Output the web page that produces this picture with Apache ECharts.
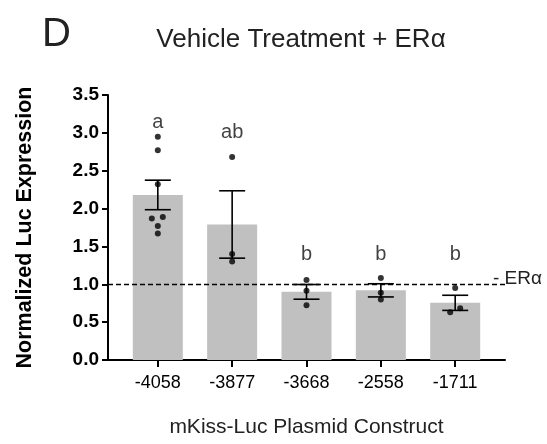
<!DOCTYPE html>
<html>
<head>
<meta charset="utf-8">
<script src="https://cdn.jsdelivr.net/npm/echarts@6/dist/echarts.min.js"></script>
<style>
  html, body { margin: 0; padding: 0; background: #fff; }
  #chart { width: 547px; height: 444px; }
</style>
</head>
<body>
<div id="chart"></div>
<script>
// Promoter deletion constructs (x categories)
const constructs = ['-4058', '-3877', '-3668', '-2558', '-1711'];
// Group means and standard errors
const means = [2.18, 1.79, 0.90, 0.92, 0.755];
const sems = [0.195, 0.445, 0.097, 0.087, 0.10];
// Individual replicates per construct
const replicates = [
  [2.95, 2.77, 2.32, 1.89, 1.87, 1.77, 1.67],
  [2.68, 1.40, 1.30],
  [1.057, 0.916, 0.722],
  [1.083, 0.889, 0.80],
  [0.951, 0.683, 0.63]
];
// Statistical grouping letters and the height they are written at
const letters = ['a', 'ab', 'b', 'b', 'b'];
const letterAt = [3.14, 3.0, 1.39, 1.39, 1.39];
// Reference level without ERα
const baseline = 1.0;
const yTicks = [0, 0.5, 1.0, 1.5, 2.0, 2.5, 3.0, 3.5];

// horizontal nudges (px) so overlapping replicate dots stay visible
const dotNudge = {
  '0-3': 5, '0-4': -6,
  '4-1': 5, '4-2': -5
};

const FONT = '"Liberation Sans", Arial, Helvetica, sans-serif';

const barData = means.map((m, i) => [i, m]);
const dotData = [];
replicates.forEach((vals, i) => {
  vals.forEach((v, j) => {
    const nx = dotNudge[i + '-' + j] || 0;
    dotData.push({ value: [i, v], symbolOffset: [nx, 0] });
  });
});
const errData = means.map((m, i) => [i, m - sems[i], m + sems[i]]);
const letterData = letters.map((t, i) => ({ value: [i, letterAt[i]], name: t }));

const chart = echarts.init(document.getElementById('chart'), null, { renderer: 'canvas' });

chart.setOption({
  backgroundColor: '#ffffff',
  animation: false,
  title: [
    {
      text: 'D',
      left: 37, top: 10,
      textStyle: { fontFamily: FONT, fontSize: 40, fontWeight: 'normal', color: '#222' }
    },
    {
      text: 'Vehicle Treatment + ERα',
      left: 296, top: 22, textAlign: 'center',
      textStyle: { fontFamily: FONT, fontSize: 26, fontWeight: 'normal', color: '#222' }
    }
  ],
  grid: { left: 108, right: 42, top: 95, bottom: 84, containLabel: false },
  xAxis: {
    type: 'value',
    min: -0.67, max: 4.67,
    splitLine: { show: false },
    axisLine: { show: true, onZero: false, lineStyle: { color: '#000', width: 2 } },
    axisTick: { show: true, length: 7, lineStyle: { color: '#000', width: 2 }, customValues: [0, 1, 2, 3, 4] },
    axisLabel: {
      customValues: [0, 1, 2, 3, 4],
      formatter: v => constructs[Math.round(v)],
      margin: 14,
      fontFamily: FONT, fontSize: 18, color: '#000'
    },
    name: 'mKiss-Luc Plasmid Construct',
    nameLocation: 'middle',
    nameGap: 57,
    nameTextStyle: { fontFamily: FONT, fontSize: 21, color: '#222' }
  },
  yAxis: {
    type: 'value',
    min: 0, max: 3.5, interval: 0.5,
    splitLine: { show: false },
    axisLine: { show: true, onZero: false, lineStyle: { color: '#000', width: 2 } },
    axisTick: { show: true, length: 6, lineStyle: { color: '#000', width: 2 } },
    axisLabel: {
      formatter: v => yTicks.includes(v) ? v.toFixed(1) : '',
      margin: 9,
      fontFamily: FONT, fontSize: 19, fontWeight: 'bold', color: '#000'
    },
    name: 'Normalized Luc Expression',
    nameLocation: 'middle',
    nameGap: 72,
    nameTextStyle: { fontFamily: FONT, fontSize: 21.5, fontWeight: 'bold', color: '#000' }
  },
  series: [
    {
      type: 'bar',
      data: barData,
      barWidth: 50,
      itemStyle: { color: '#c0c0c0' },
      z: 1,
      markLine: {
        silent: true,
        symbol: 'none',
        lineStyle: { color: '#000', type: [5, 3], width: 1.4 },
        label: {
          show: true, position: 'end', distance: 2, offset: [-14, -6],
          formatter: '- ERα',
          fontFamily: FONT, fontSize: 19, color: '#222'
        },
        data: [{ yAxis: baseline }]
      }
    },
    {
      type: 'custom',
      z: 3,
      renderItem: (params, api) => {
        const x = api.value(0);
        const lo = api.coord([x, api.value(1)]);
        const hi = api.coord([x, api.value(2)]);
        const half = 13;
        const style = { stroke: '#000', lineWidth: 1.6 };
        return {
          type: 'group',
          children: [
            { type: 'line', shape: { x1: lo[0], y1: lo[1], x2: hi[0], y2: hi[1] }, style },
            { type: 'line', shape: { x1: hi[0] - half, y1: hi[1], x2: hi[0] + half, y2: hi[1] }, style },
            { type: 'line', shape: { x1: lo[0] - half, y1: lo[1], x2: lo[0] + half, y2: lo[1] }, style }
          ]
        };
      },
      data: errData
    },
    {
      type: 'scatter',
      z: 4,
      symbol: 'circle',
      symbolSize: 6,
      itemStyle: { color: '#000' },
      data: dotData
    },
    {
      type: 'scatter',
      z: 5,
      symbolSize: 0,
      silent: true,
      label: {
        show: true, position: 'inside',
        formatter: p => p.name,
        fontFamily: FONT, fontSize: 20, color: '#111'
      },
      data: letterData
    }
  ]
});
</script>
</body>
</html>
